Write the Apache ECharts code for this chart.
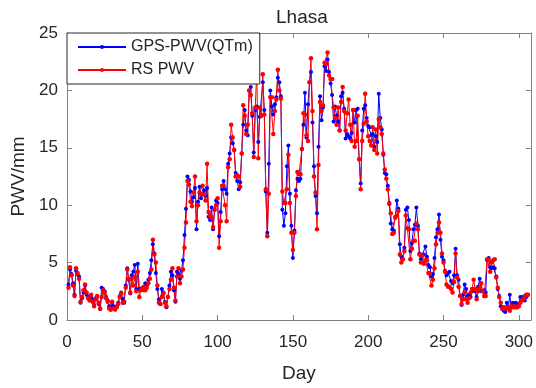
<!DOCTYPE html>
<html>
<head>
<meta charset="utf-8">
<script src="https://cdn.jsdelivr.net/npm/echarts@6.0.0/dist/echarts.min.js"></script>
<style>
  html, body { margin: 0; padding: 0; background: #fff; }
  #main { width: 536px; height: 388px; }
</style>
</head>
<body>
<div id="main"></div>
<script>
// 第一天
var firstDay = 1;
// GPS-PWV(QTm), 每天一个值
var gpsPwv = [
  3.1, 4.4, 4.0, 3.2, 2.2, 4.3, 4.0, 3.8, 1.5, 1.9,
  2.4, 3.0, 2.2, 2.0, 1.8, 2.1, 1.8, 1.3, 1.9, 2.0,
  1.4, 0.95, 2.8, 2.7, 2.5, 2.0, 1.7, 1.2, 1.0, 1.5,
  1.2, 0.9, 1.2, 1.5, 2.1, 2.4, 1.8, 1.5, 3.0, 4.5,
  3.5, 2.3, 3.9, 4.2, 4.8, 2.7, 4.9, 2.7, 2.7, 2.8,
  2.6, 3.2, 3.0, 3.5, 4.1, 5.2, 6.6, 5.8, 4.1, 2.7,
  1.8, 1.4, 2.7, 2.4, 1.6, 1.1, 2.0, 3.0, 4.2, 3.9,
  2.6, 1.6, 4.2, 4.0, 3.6, 4.3, 5.2, 7.4, 9.7, 12.5,
  12.2, 11.2, 10.3, 10.7, 11.5, 7.9, 10.3, 11.6, 10.6, 11.0,
  11.3, 10.8, 11.5, 9.0, 8.7, 9.8, 7.9, 9.6, 10.4, 10.2,
  7.3, 9.4, 11.4, 12.1, 11.4, 11.0, 13.6, 14.5, 15.9, 15.4,
  14.8, 12.8, 12.1, 11.4, 12.0, 14.5, 17.0, 18.3, 16.5, 16.1,
  20.0, 20.3, 17.8, 14.6, 18.3, 18.6, 15.5, 17.7, 17.8, 20.7,
  18.3, 11.2, 7.6, 13.6, 20.0, 18.6, 17.9, 18.8, 19.4, 21.1,
  20.7, 19.5, 9.6, 8.2, 9.3, 13.4, 15.2, 11.0, 8.2, 5.4,
  7.8, 11.3, 12.3, 12.1, 12.3, 14.9, 17.0, 19.8, 15.9, 18.8,
  20.7, 21.6, 17.2, 13.4, 10.8, 9.3, 15.1, 19.5, 17.4, 18.5,
  22.1, 21.7, 22.7, 21.6, 20.6, 19.6, 17.3, 18.6, 17.8, 17.3,
  16.5, 19.5, 19.8, 18.4, 15.8, 16.2, 16.0, 15.8, 16.3, 18.3,
  17.2, 18.3, 18.4, 14.0, 11.9, 16.5, 18.4, 18.7, 17.6, 16.9,
  16.8, 16.1, 16.2, 15.1, 16.0, 15.5, 19.7, 17.6, 16.6, 14.4,
  12.8, 12.7, 11.7, 10.2, 8.4, 7.9, 7.8, 9.0, 10.4, 9.7,
  6.6, 5.5, 5.3, 6.3, 9.6, 9.8, 8.7, 6.0, 6.7, 7.9,
  8.3, 9.8, 8.2, 5.8, 5.3, 5.7, 5.7, 6.4, 5.5, 4.8,
  4.6, 3.8, 4.0, 5.4, 7.2, 7.9, 9.2, 7.0, 5.5, 5.2,
  4.3, 3.9, 4.1, 4.2, 3.4, 3.2, 3.9, 6.2, 3.9, 3.5,
  2.1, 1.3, 2.2, 3.1, 2.7, 2.1, 2.2, 2.0, 2.5, 2.7,
  2.5, 2.0, 2.9, 3.6, 2.5, 2.5, 2.6, 2.4, 5.2, 5.4,
  4.6, 4.5, 4.6, 4.5, 3.8, 2.7, 2.1, 1.2, 0.95, 0.8,
  0.7, 1.5, 0.95, 2.2, 1.1, 1.5, 1.1, 1.5, 1.1, 1.4,
  2.0, 2.0, 1.8, 1.7, 2.0, 2.2
];
// 探空 RS PWV
var rsPwv = [
  2.8, 4.6, 3.9, 3.0, 2.1, 4.5, 4.1, 3.6, 1.6, 2.0,
  2.6, 3.1, 2.4, 1.9, 1.7, 2.2, 1.6, 1.2, 1.8, 2.1,
  1.5, 1.0, 2.0, 2.6, 2.3, 1.9, 1.6, 1.0, 0.9, 1.6,
  1.0, 0.95, 1.1, 1.4, 2.0, 2.3, 1.5, 1.6, 2.8, 4.4,
  3.6, 2.4, 3.6, 3.0, 3.8, 2.5, 4.2, 2.0, 2.6, 2.7,
  2.9, 2.6, 2.8, 3.2, 3.6, 4.4, 7.0, 5.7, 5.0, 3.0,
  1.5, 1.4, 2.0, 2.3, 1.5, 1.2, 2.0, 2.7, 3.5, 4.5,
  2.8, 1.7, 3.8, 4.5, 3.2, 3.8, 4.4, 6.3, 8.5, 12.1,
  11.8, 10.3, 9.9, 11.1, 12.5, 8.6, 10.0, 11.1, 11.0, 11.7,
  10.9, 10.4, 13.6, 9.4, 9.1, 8.9, 8.1, 9.6, 10.0, 10.6,
  6.3, 8.6, 11.7, 11.7, 10.0, 8.6, 13.3, 14.0, 17.0, 15.9,
  14.8, 12.5, 12.6, 12.5, 11.6, 14.5, 18.7, 17.8, 16.2, 17.0,
  20.0, 19.6, 18.0, 14.2, 18.5, 21.7, 14.1, 18.5, 17.8, 21.4,
  17.9, 11.4, 7.3, 11.0, 19.4, 19.4, 16.2, 18.2, 19.2, 21.8,
  20.0, 19.3, 11.2, 10.2, 10.2, 11.4, 14.4, 10.2, 7.6, 6.1,
  7.6, 10.8, 12.9, 12.7, 12.7, 14.9, 18.0, 17.9, 16.1, 15.6,
  20.7, 22.8, 18.2, 12.5, 11.1, 7.9, 13.5, 19.0, 18.2, 18.7,
  22.4, 22.3, 23.3, 21.3, 21.0, 21.0, 18.5, 17.6, 17.0, 18.5,
  16.5, 19.0, 20.3, 18.2, 16.5, 18.0, 19.2, 17.0, 15.6, 18.3,
  15.1, 15.6, 17.8, 14.0, 11.4, 15.6, 17.1, 19.7, 17.3, 16.0,
  15.6, 15.2, 16.8, 14.8, 16.6, 14.5, 17.5, 16.8, 16.2, 14.5,
  13.1, 12.3, 11.4, 10.1, 9.3, 7.5, 7.6, 8.9, 9.1, 9.5,
  5.7, 5.0, 5.3, 6.0, 9.1, 8.0, 7.9, 5.3, 6.2, 6.9,
  6.9, 8.4, 7.9, 5.7, 5.0, 5.6, 4.9, 5.2, 5.2, 4.1,
  4.0, 3.0, 3.5, 4.5, 6.6, 7.6, 8.5, 7.6, 5.8, 5.0,
  4.2, 3.1, 2.9, 2.9, 2.7, 2.4, 3.3, 5.8, 3.7, 2.9,
  2.1, 1.4, 1.8, 2.4, 1.8, 1.5, 1.9, 2.4, 2.7, 3.5,
  2.7, 1.8, 2.5, 2.8, 3.2, 2.5, 2.1, 2.1, 5.3, 5.2,
  4.2, 5.0, 5.2, 5.3, 3.7, 2.8, 2.0, 1.5, 1.0, 1.1,
  1.0, 1.1, 1.0, 0.8, 1.2, 1.1, 1.2, 1.1, 1.1, 1.2,
  1.5, 1.7, 1.8, 2.1, 2.2, 2.2
];
var xTicks = [0, 50, 100, 150, 200, 250, 300];
var yTicks = [0, 5, 10, 15, 20, 25];

function toPairs(arr) {
  return arr.map(function (v, i) { return [firstDay + i, v]; });
}

var font = 'Liberation Sans, Arial, sans-serif';
var textColor = '#262626';
var axisColor = '#808080';

function xAxisCfg(pos, showLabel) {
  return {
    type: 'value', position: pos, min: 0, max: 308, interval: 50,
    axisLine: { show: true, onZero: false, lineStyle: { color: axisColor } },
    axisTick: { show: true, inside: true, length: 5, lineStyle: { color: axisColor } },
    axisLabel: {
      show: showLabel, margin: 14, fontSize: 17, color: textColor, fontFamily: font,
      formatter: function (v) { return xTicks.indexOf(v) >= 0 ? String(v) : ''; }
    },
    splitLine: { show: false }
  };
}
function yAxisCfg(pos, showLabel) {
  return {
    type: 'value', position: pos, min: 0, max: 25, interval: 5,
    axisLine: { show: true, onZero: false, lineStyle: { color: axisColor } },
    axisTick: { show: true, inside: true, length: 5, lineStyle: { color: axisColor } },
    axisLabel: {
      show: showLabel, margin: 9, fontSize: 17, color: textColor, fontFamily: font,
      formatter: function (v) { return yTicks.indexOf(v) >= 0 ? String(v) : ''; }
    },
    splitLine: { show: false }
  };
}

var xBottom = xAxisCfg('bottom', true);
xBottom.name = 'Day';
xBottom.nameLocation = 'middle';
xBottom.nameGap = 44;
xBottom.nameTextStyle = { fontSize: 19, color: textColor, fontFamily: font };
var yLeft = yAxisCfg('left', true);
yLeft.name = 'PWV/mm';
yLeft.nameLocation = 'middle';
yLeft.nameGap = 30;
yLeft.nameTextStyle = { fontSize: 19, color: textColor, fontFamily: font };

var chart = echarts.init(document.getElementById('main'));
chart.setOption({
  animation: false,
  backgroundColor: '#fff',
  title: {
    text: 'Lhasa', left: 276, top: 8, padding: 0,
    textStyle: { fontSize: 19, fontWeight: 'normal', color: textColor, fontFamily: font }
  },
  legend: {
    orient: 'vertical', left: 67, top: 33,
    padding: [6, 7, 6, 10], itemGap: 7, itemWidth: 48, itemHeight: 5,
    borderColor: '#262626', borderWidth: 1, backgroundColor: '#fff',
    textStyle: { fontSize: 16, color: textColor, fontFamily: font },
    data: ['GPS-PWV(QTm)', 'RS PWV']
  },
  grid: { left: 67, right: 1, top: 33, bottom: 60 },
  xAxis: [xBottom, xAxisCfg('top', false)],
  yAxis: [yLeft, yAxisCfg('right', false)],
  series: [
    {
      name: 'GPS-PWV(QTm)', type: 'line', data: toPairs(gpsPwv),
      symbol: 'circle', symbolSize: 4, showAllSymbol: true,
      itemStyle: { color: '#0000ff' }, lineStyle: { width: 1, color: '#0000ff' }
    },
    {
      name: 'RS PWV', type: 'line', data: toPairs(rsPwv),
      symbol: 'circle', symbolSize: 4.5, showAllSymbol: true,
      itemStyle: { color: '#ff0000' }, lineStyle: { width: 1, color: '#ff0000' }
    }
  ]
});
</script>
</body>
</html>
